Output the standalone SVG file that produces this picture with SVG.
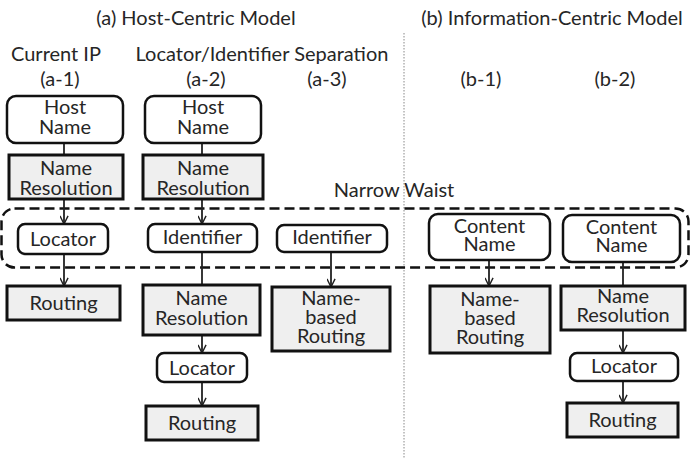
<svg xmlns="http://www.w3.org/2000/svg" width="692" height="459" viewBox="0 0 692 459">
<defs>
<marker id="arr" viewBox="0 0 10 10" refX="10" refY="5" markerWidth="9" markerHeight="9" markerUnits="userSpaceOnUse" orient="auto">
<path d="M1,0.5 L10,5 L1,9.5" fill="none" stroke="#222" stroke-width="1.6"/>
</marker>
<style>
text{font-family:Lato,"Open Sans","Liberation Sans",sans-serif;fill:#262626;text-anchor:middle;font-size:20px}
.hd{font-size:20px}
.rb{fill:#fff;stroke:#111;stroke-width:2.5}
.sb{fill:#efefef;stroke:#111;stroke-width:3}
.c{stroke:#222;stroke-width:1.8;fill:none}
.ca{stroke:#222;stroke-width:1.8;fill:none;marker-end:url(#arr)}
</style>
</defs>
<rect width="692" height="459" fill="#fff"/>
<g id="titles">
<text class="hd" x="196" y="25">(a) Host-Centric Model</text>
<text class="hd" x="552" y="25">(b) Information-Centric Model</text>
<text x="56" y="61">Current IP</text>
<text x="262" y="61">Locator/Identifier Separation</text>
<text x="60" y="86">(a-1)</text>
<text x="206" y="86">(a-2)</text>
<text x="327" y="86">(a-3)</text>
<text x="481" y="86">(b-1)</text>
<text x="615" y="86">(b-2)</text>
<text x="394" y="197">Narrow Waist</text>
</g>
<g id="divider"><line x1="404" y1="33" x2="404" y2="459" stroke="#888" stroke-width="1" stroke-dasharray="1.5,1.5"/></g>
<g id="narrow-waist"><rect x="1.5" y="208.5" width="687" height="59" rx="13" fill="none" stroke="#111" stroke-width="2.5" stroke-dasharray="10,5"/></g>
<g id="connectors">
<line class="c" x1="64" y1="143" x2="64" y2="155"/>
<line class="ca" x1="64" y1="199" x2="64" y2="224"/>
<line class="ca" x1="64" y1="254" x2="64" y2="286"/>
<line class="c" x1="202" y1="143" x2="202" y2="155"/>
<line class="ca" x1="202" y1="199" x2="202" y2="224"/>
<line class="c" x1="202" y1="252" x2="202" y2="285"/>
<line class="ca" x1="202" y1="335" x2="202" y2="353"/>
<line class="ca" x1="202" y1="382" x2="202" y2="406"/>
<line class="ca" x1="331" y1="252" x2="331" y2="287"/>
<line class="ca" x1="489" y1="260" x2="489" y2="286"/>
<line class="c" x1="623" y1="262" x2="623" y2="286"/>
<line class="ca" x1="623" y1="330" x2="623" y2="353"/>
<line class="ca" x1="623" y1="381" x2="623" y2="403"/>
</g>
<g id="a1-host"><rect class="rb" x="7" y="96" width="116" height="47" rx="9"/><text x="65" y="114">Host</text><text x="65" y="134">Name</text></g>
<g id="a1-nr"><rect class="sb" x="9" y="155" width="114" height="44"/><text x="66" y="175">Name</text><text x="66" y="195">Resolution</text></g>
<g id="a1-loc"><rect class="rb" x="18" y="224" width="90" height="30" rx="7"/><text x="63" y="246">Locator</text></g>
<g id="a1-rt"><rect class="sb" x="7" y="286" width="113" height="34"/><text x="63.5" y="310">Routing</text></g>
<g id="a2-host"><rect class="rb" x="145" y="96" width="116" height="47" rx="9"/><text x="203" y="114">Host</text><text x="203" y="134">Name</text></g>
<g id="a2-nr"><rect class="sb" x="143" y="155" width="120" height="44"/><text x="203" y="175">Name</text><text x="203" y="195">Resolution</text></g>
<g id="a2-id"><rect class="rb" x="148" y="224" width="109" height="28" rx="7"/><text x="202.5" y="244">Identifier</text></g>
<g id="a2-nr2"><rect class="sb" x="143" y="285" width="117" height="50"/><text x="201.5" y="305">Name</text><text x="201.5" y="325">Resolution</text></g>
<g id="a2-loc"><rect class="rb" x="157" y="353" width="90" height="29" rx="7"/><text x="202" y="375">Locator</text></g>
<g id="a2-rt"><rect class="sb" x="146" y="406" width="112" height="34"/><text x="202" y="430">Routing</text></g>
<g id="a3-id"><rect class="rb" x="277" y="225" width="110" height="27" rx="7"/><text x="332" y="244">Identifier</text></g>
<g id="a3-nbr"><rect class="sb" x="272" y="287" width="118" height="64"/><text x="331" y="305">Name-</text><text x="331" y="324">based</text><text x="331" y="343">Routing</text></g>
<g id="b1-cn"><rect class="rb" x="429" y="214" width="121" height="46" rx="9"/><text x="489.5" y="233">Content</text><text x="489.5" y="251">Name</text></g>
<g id="b1-nbr"><rect class="sb" x="430" y="286" width="120" height="67"/><text x="490" y="306">Name-</text><text x="490" y="325">based</text><text x="490" y="344">Routing</text></g>
<g id="b2-cn"><rect class="rb" x="563" y="215" width="117" height="47" rx="9"/><text x="621.5" y="234">Content</text><text x="621.5" y="252">Name</text></g>
<g id="b2-nr"><rect class="sb" x="561" y="286" width="124" height="44"/><text x="623" y="303">Name</text><text x="623" y="322">Resolution</text></g>
<g id="b2-loc"><rect class="rb" x="570" y="353" width="108" height="28" rx="7"/><text x="624" y="373">Locator</text></g>
<g id="b2-rt"><rect class="sb" x="567" y="403" width="111" height="34"/><text x="622.5" y="427">Routing</text></g>
</svg>
